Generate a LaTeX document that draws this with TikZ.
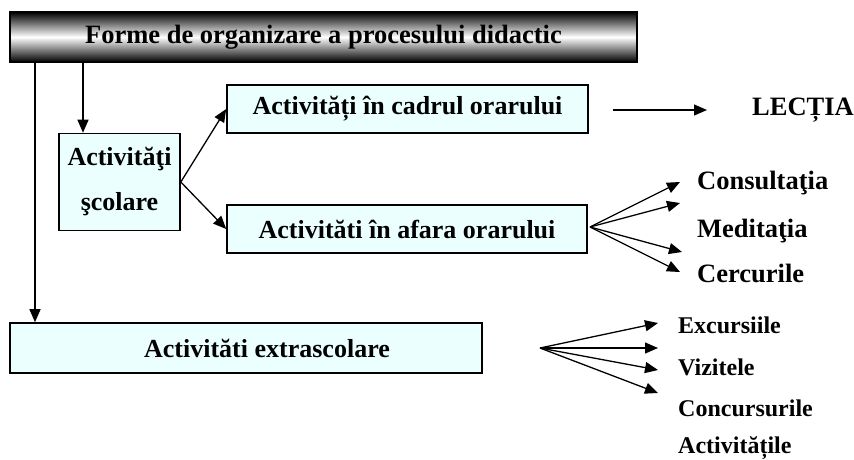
\documentclass[tikz,border=0pt]{standalone}
\usepackage{fontspec}
\setmainfont{Liberation Serif}
\usetikzlibrary{arrows.meta,calc}
\definecolor{boxfill}{RGB}{235,255,255}
\begin{document}
\begin{tikzpicture}[x=1pt,y=-1pt,
  bx/.style={draw=black,line width=1.6pt,fill=boxfill,inner sep=0pt,font=\fontsize{26}{30}\selectfont\bfseries},
  lbl/.style={anchor=west,inner sep=0pt,font=\fontsize{26.5}{30}\selectfont\bfseries},
  slbl/.style={anchor=west,inner sep=0pt,font=\fontsize{24}{28}\selectfont\bfseries},
  arr/.style={line width=1.3pt,-{Triangle[length=13pt,width=11pt]}},
]
\useasboundingbox (0,0) rectangle (854,459);
% title
\node[draw=black,line width=1.6pt,top color=black,bottom color=black,middle color=white,
      minimum width=627pt,minimum height=50pt,inner sep=0pt,
      font=\fontsize{26.5}{30}\selectfont\bfseries] (title) at (323.5,37) {Forme de organizare a procesului didactic};
% boxes
\node[bx,minimum width=121pt,minimum height=97pt,align=center,font=\fontsize{26}{45}\selectfont\bfseries] (scol) at (119.5,182) {Activităţi\\şcolare};
\node[bx,minimum width=361pt,minimum height=48pt] (cad) at (407.5,109) {Activități în cadrul orarului};
\node[bx,minimum width=360pt,minimum height=48pt] (afa) at (407,229) {Activităti în afara orarului};
\node[bx,minimum width=472pt,minimum height=50pt] (extra) at (246,348) {\hspace*{42pt}Activităti extrascolare};
% labels
\node[lbl] (lec) at (752,110) {LECȚIA};
\node[lbl] (cons) at (697,183) {Consultaţia};
\node[lbl] (med) at (697,231) {Meditaţia};
\node[lbl] (cerc) at (697,273) {Cercurile};
\node[slbl] (exc) at (678,325) {Excursiile};
\node[slbl] (viz) at (678,367) {Vizitele};
\node[slbl] (conc) at (678,408) {Concursurile};
\node[slbl] (act) at (678,448) {Activitățile};
% coordinates
\coordinate (v1) at (35,0);
\coordinate (v2) at (83,0);
\coordinate (fo1) at (590,227);
\coordinate (t1) at (680,182);
\coordinate (t2) at (680,203);
\coordinate (t3) at (682,252);
\coordinate (t4) at (680,272);
\coordinate (fo2) at (540,348);
\coordinate (u1) at (658,323);
\coordinate (u2) at (658,348);
\coordinate (u3) at (658,370);
\coordinate (u4) at (658,393);
% connectors
\draw[arr] (title.south -| v1) -- (extra.north -| v1);
\draw[arr] (title.south -| v2) -- (scol.north -| v2);
\draw[arr] (scol.east) -- (cad.west);
\draw[arr] (scol.east) -- (afa.west);
\draw[arr] ($(cad.east)+(24,1)$) -- ($(lec.west)+(-45,0)$);
\foreach \t in {t1,t2,t3,t4} \draw[arr] (fo1) -- (\t);
\foreach \t in {u1,u2,u3,u4} \draw[arr] (fo2) -- (\t);
\end{tikzpicture}
\end{document}
